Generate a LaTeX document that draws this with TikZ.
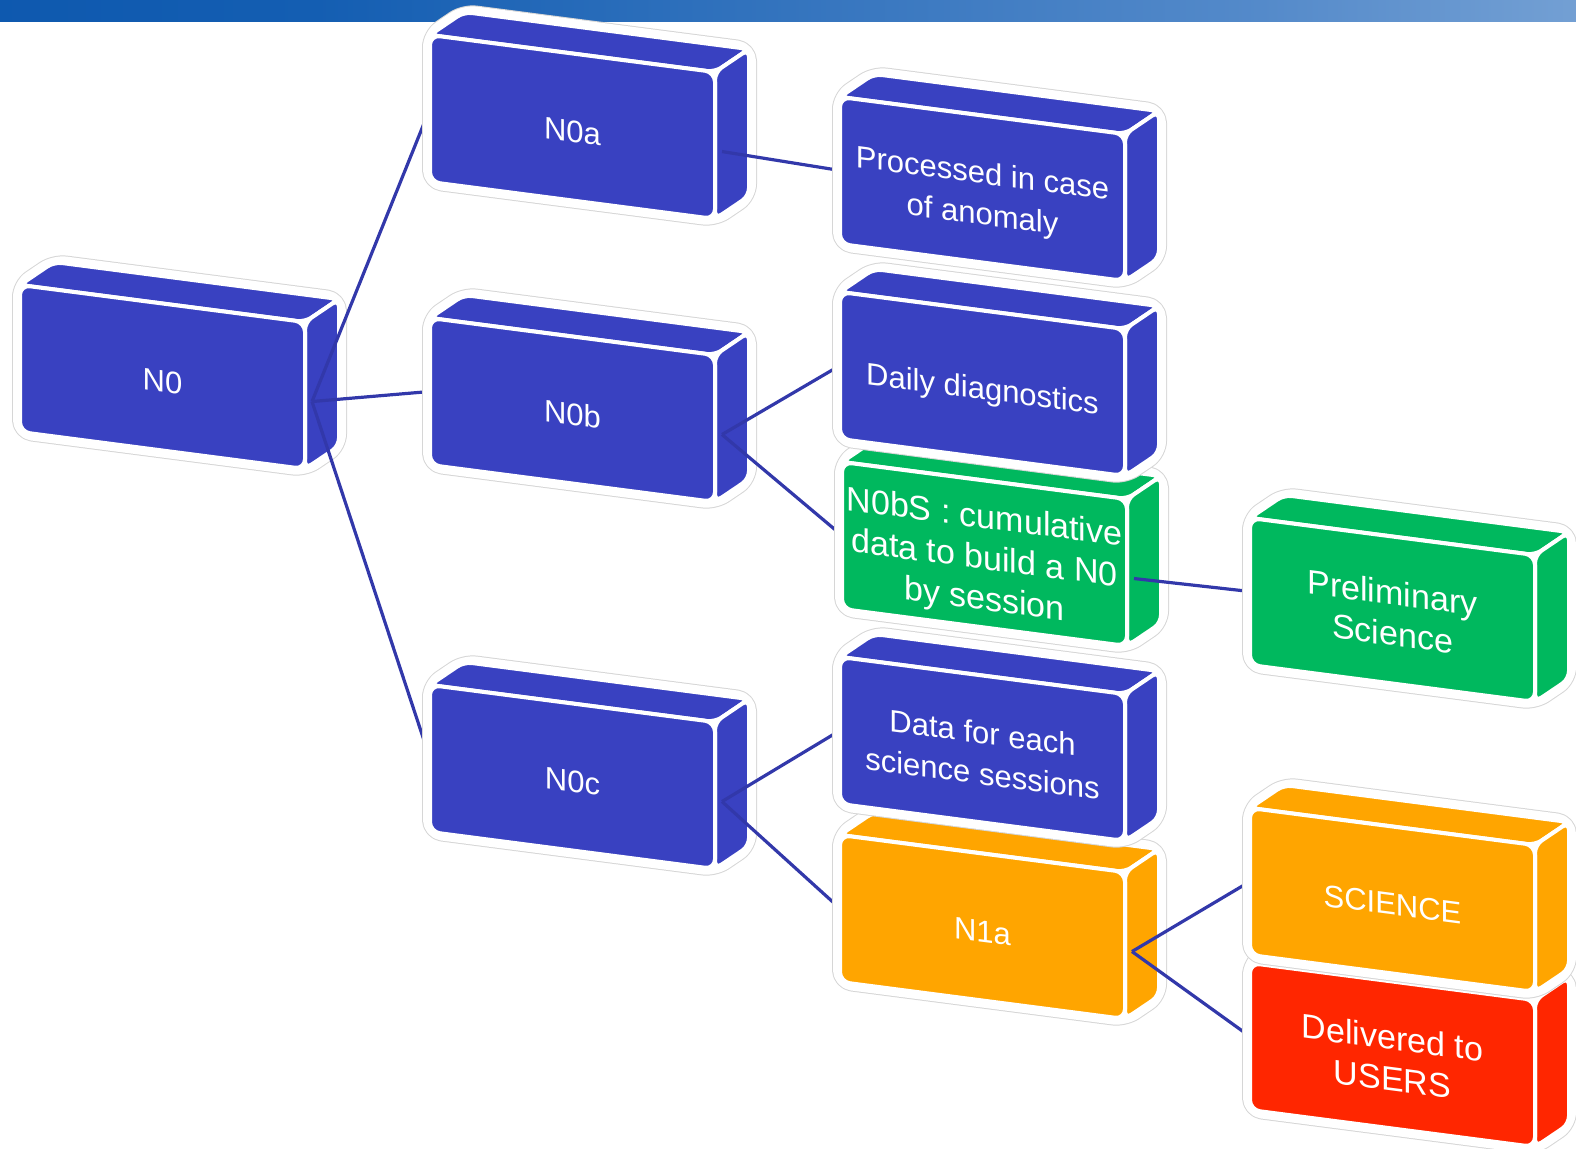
\documentclass[tikz,border=0pt]{standalone}
\usepackage{fontspec}
\setmainfont{Liberation Sans}
\usetikzlibrary{calc}

\definecolor{boxblue}{RGB}{57,65,193}
\definecolor{boxgreen}{RGB}{0,184,94}
\definecolor{boxorange}{RGB}{255,165,0}
\definecolor{boxred}{RGB}{255,38,0}
\definecolor{linkblue}{RGB}{50,56,170}
\definecolor{barA}{RGB}{0,76,166}
\definecolor{barB}{RGB}{20,94,178}
\definecolor{barC}{RGB}{84,138,202}
\definecolor{barD}{RGB}{192,213,235}

\pgfdeclarehorizontalshading{topbar}{100bp}{color(0bp)=(barA); color(35bp)=(barB); color(65bp)=(barC); color(100bp)=(barD)}

\pgfdeclarelayer{col1}
\pgfdeclarelayer{link1}
\pgfdeclarelayer{col2}
\pgfdeclarelayer{link2}
\pgfdeclarelayer{col3}
\pgfdeclarelayer{link3}
\pgfdeclarelayer{col4}
\pgfsetlayers{col1,link1,col2,link2,col3,link3,col4,main}

\tikzset{
  halo/.style={fill=white, draw=black!16, line width=0.5pt, double=white,
    double distance=7pt, rounded corners=6pt, line join=round},
  face/.style={fill=#1, draw=white, line width=2pt, rounded corners=4pt, line join=round},
  frontface/.style={rectangle, transform shape, fill=#1, draw=white, line width=2pt,
    rounded corners=5pt, minimum width=142.5pt, minimum height=73.5pt,
    inner sep=0pt, outer sep=0pt, text=white},
  link/.style={draw=linkblue, line width=1.6pt},
  txt/.style={font=\fontsize{15.5}{20.5}\selectfont},
  bigtxt/.style={font=\fontsize{17}{20.5}\selectfont},
}

% slab box: #1 name, #2 #3 centre of front face, #4 colour, #5 text style, #6 text
% (the label is set a little below the centre of the front face)
\newcommand{\slabbox}[6]{%
  \begin{scope}[shift={(#2,#3)}, yslant=-0.13]
    \path[halo] (-142.5,73.5) -- (-142.5,-73.5) -- (-108.5,-100.9) -- (176.5,-100.9)
      -- (176.5,46.1) -- (142.5,73.5) -- cycle;
    \path[face=#4] (-142.5,-73.5) -- (-108.5,-100.9) -- (176.5,-100.9) -- (142.5,-73.5) -- cycle;
    \path[face=#4] (142.5,-73.5) -- (176.5,-100.9) -- (176.5,46.1) -- (142.5,73.5) -- cycle;
    \node[frontface=#4, #5] (#1) at (0,0)
      {\raisebox{-3.5pt}[\height][\depth]{\begin{tabular}{@{}c@{}}#6\end{tabular}}};
  \end{scope}}

\begin{document}
\begin{tikzpicture}[x=0.5pt, y=-0.5pt]
  \useasboundingbox (0,0) rectangle (1576,1148);

  \begin{pgfonlayer}{col1}
    \shade[shading=topbar] (0,0) rectangle (1576,21);
    \slabbox{N0}{162.5}{377}{boxblue}{txt}{N0}
  \end{pgfonlayer}

  \begin{pgfonlayer}{col2}
    \slabbox{N0a}{572.5}{127}{boxblue}{txt}{N0a}
    \slabbox{N0b}{572.5}{410}{boxblue}{txt}{N0b}
    \slabbox{N0c}{572.5}{777}{boxblue}{txt}{N0c}
  \end{pgfonlayer}

  \begin{pgfonlayer}{col3}
    \slabbox{N1a}{982.5}{927}{boxorange}{txt}{N1a}
    \slabbox{sessions}{982.5}{749}{boxblue}{txt}{Data for each\\science sessions}
    \slabbox{N0bS}{984.5}{554}{boxgreen}{bigtxt}{N0bS : cumulative\\data to build a N0\\by session}
    \slabbox{daily}{982.5}{384}{boxblue}{txt}{Daily diagnostics}
    \slabbox{anomaly}{982.5}{189}{boxblue}{txt}{Processed in case\\of anomaly}
  \end{pgfonlayer}

  \begin{pgfonlayer}{col4}
    \slabbox{users}{1392.5}{1055}{boxred}{bigtxt}{Delivered to\\USERS}
    \slabbox{science}{1392.5}{900}{boxorange}{txt}{SCIENCE}
    \slabbox{prelim}{1392.5}{610}{boxgreen}{bigtxt}{Preliminary\\Science}
  \end{pgfonlayer}

  \begin{pgfonlayer}{link1}
    \draw[link] ($(N0.east)+(7,6)$) -- (N0a.west);
    \draw[link] ($(N0.east)+(7,6)$) -- (N0b.west);
    \draw[link] ($(N0.east)+(7,6)$) -- (N0c.west);
  \end{pgfonlayer}

  \begin{pgfonlayer}{link2}
    \draw[link] ($(N0a.east)+(7,6)$) -- (anomaly.west);
    \draw[link] ($(N0b.east)+(7,6)$) -- (daily.west);
    \draw[link] ($(N0b.east)+(7,6)$) -- (N0bS.west);
    \draw[link] ($(N0c.east)+(7,6)$) -- (sessions.west);
    \draw[link] ($(N0c.east)+(7,6)$) -- (N1a.west);
  \end{pgfonlayer}

  \begin{pgfonlayer}{link3}
    \draw[link] ($(N0bS.east)+(7,6)$) -- (prelim.west);
    \draw[link] ($(N1a.east)+(7,6)$) -- (science.west);
    \draw[link] ($(N1a.east)+(7,6)$) -- (users.west);
  \end{pgfonlayer}
\end{tikzpicture}
\end{document}
